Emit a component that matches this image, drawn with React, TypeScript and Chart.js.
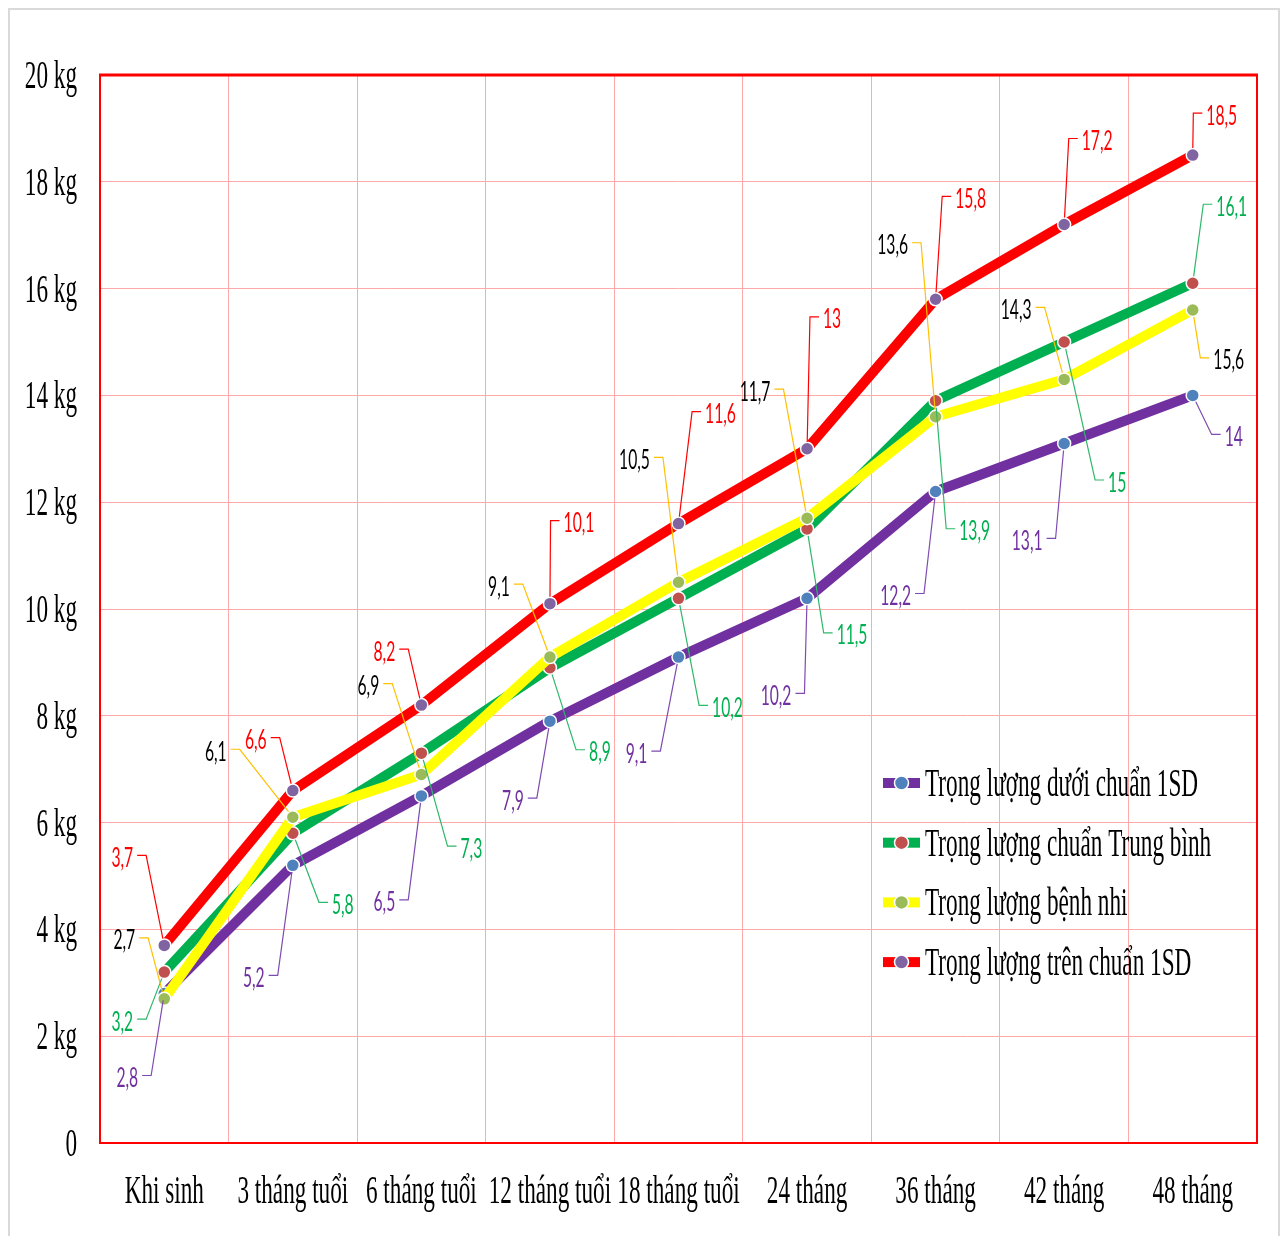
import React, { useEffect, useRef } from 'react';
import { Chart, registerables } from 'chart.js';

Chart.register(...registerables);

// Categories (age) and weight series, in kg
const categories = [
  'Khi sinh',
  '3 tháng tuổi',
  '6 tháng tuổi',
  '12 tháng tuổi',
  '18 tháng tuổi',
  '24 tháng',
  '36 tháng',
  '42 tháng',
  '48 tháng',
];

const seriesNames = [
  'Trọng lượng dưới chuẩn 1SD',
  'Trọng lượng chuẩn Trung bình',
  'Trọng lượng bệnh nhi',
  'Trọng lượng trên chuẩn 1SD',
];

const belowOneSD = [2.8, 5.2, 6.5, 7.9, 9.1, 10.2, 12.2, 13.1, 14];
const averageStandard = [3.2, 5.8, 7.3, 8.9, 10.2, 11.5, 13.9, 15, 16.1];
const patientWeight = [2.7, 6.1, 6.9, 9.1, 10.5, 11.7, 13.6, 14.3, 15.6];
const aboveOneSD = [3.7, 6.6, 8.2, 10.1, 11.6, 13, 15.8, 17.2, 18.5];

const yTickValues = [0, 2, 4, 6, 8, 10, 12, 14, 16, 18, 20];
const yTickLabels = ['0', '2 kg', '4 kg', '6 kg', '8 kg', '10 kg', '12 kg', '14 kg', '16 kg', '18 kg', '20 kg'];

const allSeries = [belowOneSD, averageStandard, patientWeight, aboveOneSD];

// Styling per series
const lineColors = ['#7030A0', '#00B050', '#FFFF00', '#FF0000'];
const markerColors = ['#4F81BD', '#C0504D', '#9BBB59', '#8064A2'];
const valueTextColors = ['#7030A0', '#00B050', '#000000', '#FF0000'];
const leaderColors = ['#7E4BB0', '#2EB86A', '#FFC000', '#FF0000'];

// Value-label placement: pixel offset of label centre from its point
const labelOffsets = [
  [[-37, 84], [-39, 112], [-37, 106], [-37, 79], [-42, 96], [-31, 97], [-40, 104], [-37, 97], [41, 41]],
  [[-42, 49], [50, 71], [50, 95], [50, 84], [49, 109], [45, 106], [39, 130], [53, 140], [39, -77]],
  [[-40, -59], [-77, -66], [-53, -89], [-51, -71], [-44, -123], [-52, -127], [-43, -172], [-48, -70], [36, 50]],
  [[-42, -88], [-37, -51], [-37, -54], [29, -81], [42, -110], [25, -130], [35, -101], [33, -84], [29, -40]],
];

const SQUEEZE = 0.58;
const SERIF = '40px "Liberation Serif", "Times New Roman", serif';
const SANS = '27px Lato, "Noto Sans", sans-serif';
const GRID = '#ffaaaa';

function drawText(ctx: CanvasRenderingContext2D, text: string, x: number, y: number,
  align: 'left' | 'right' | 'center', font: string, color: string) {
  ctx.save();
  ctx.font = font;
  ctx.fillStyle = color;
  ctx.textBaseline = 'alphabetic';
  ctx.textAlign = 'left';
  const w = ctx.measureText(text).width * SQUEEZE;
  const left = align === 'left' ? x : align === 'right' ? x - w : x - w / 2;
  ctx.translate(left, y);
  ctx.scale(SQUEEZE, 1);
  ctx.fillText(text, 0, 0);
  ctx.restore();
  return w;
}

const decorPlugin = {
  id: 'decor',
  beforeDatasetsDraw(chart: any) {
    const { ctx, chartArea: a } = chart;
    ctx.save();
    ctx.strokeStyle = '#FF0000';
    ctx.lineWidth = 2;
    ctx.strokeRect(a.left, a.top, a.right - a.left, a.bottom - a.top);
    ctx.lineWidth = 3;
    ctx.beginPath();
    ctx.moveTo(a.left - 1, a.top);
    ctx.lineTo(a.right + 1, a.top);
    ctx.stroke();
    ctx.restore();
  },
  afterDatasetsDraw(chart: any) {
    const { ctx, chartArea: a } = chart;
    const xs = chart.scales.x;
    const ys = chart.scales.y;

    // axis labels
    yTickValues.forEach((v, i) => {
      drawText(ctx, yTickLabels[i], a.left - 23, ys.getPixelForValue(v) + 13, 'right', SERIF, '#000');
    });
    categories.forEach((c, i) => {
      drawText(ctx, c, xs.getPixelForValue(i), a.bottom + 60, 'center', SERIF, '#000');
    });

    // value labels with leader lines
    allSeries.forEach((values, s) => {
      const meta = chart.getDatasetMeta(s);
      values.forEach((v, j) => {
        const pt = meta.data[j];
        const [dx, dy] = labelOffsets[s][j];
        const cx = pt.x + dx;
        const cy = pt.y + dy;
        const text = String(v).replace('.', ',');
        ctx.save();
        ctx.font = SANS;
        const w = ctx.measureText(text).width * SQUEEZE;
        const onLeft = dx < 0;
        const tickY = cy - 2;
        const tNear = onLeft ? cx + w / 2 + 4 : cx - w / 2 - 4;
        const tFar = onLeft ? tNear + 9 : tNear - 9;
        const ang = Math.atan2(pt.y - tickY, pt.x - tFar);
        const ex = pt.x - Math.cos(ang) * 7;
        const ey = pt.y - Math.sin(ang) * 7;
        ctx.strokeStyle = leaderColors[s];
        ctx.lineWidth = 1.2;
        ctx.beginPath();
        ctx.moveTo(tNear, tickY);
        ctx.lineTo(tFar, tickY);
        ctx.lineTo(ex, ey);
        ctx.stroke();
        ctx.restore();
        drawText(ctx, text, cx, cy + 9.5, 'center', SANS, valueTextColors[s]);
      });
    });

    // legend
    const lx = a.right - 374;
    const ly0 = a.bottom - 360;
    const step = 59.7;
    seriesNames.forEach((name, s) => {
      const y = ly0 + s * step;
      ctx.save();
      ctx.fillStyle = lineColors[s];
      ctx.fillRect(lx, y - 5, 37, 10);
      ctx.beginPath();
      ctx.arc(lx + 18.5, y, 7, 0, Math.PI * 2);
      ctx.fillStyle = markerColors[s];
      ctx.fill();
      ctx.strokeStyle = '#ffffff';
      ctx.lineWidth = 1.5;
      ctx.stroke();
      ctx.restore();
      drawText(ctx, name, lx + 42, y + 13, 'left', SERIF, '#000');
    });
  },
};

export default function App() {
  const canvasRef = useRef<HTMLCanvasElement | null>(null);

  useEffect(() => {
    const canvas = canvasRef.current;
    if (!canvas) return;
    const chart = new Chart(canvas, {
      type: 'line',
      data: {
        labels: categories,
        datasets: allSeries.map((values, s) => ({
          label: seriesNames[s],
          data: values,
          borderColor: lineColors[s],
          backgroundColor: lineColors[s],
          borderWidth: 10,
          borderJoinStyle: 'round',
          borderCapStyle: 'round',
          tension: 0,
          pointRadius: 6.5,
          pointBorderWidth: 1.5,
          pointBorderColor: '#ffffff',
          pointBackgroundColor: markerColors[s],
          order: 4 - s,
        })),
      },
      options: {
        animation: false,
        responsive: false,
        devicePixelRatio: 1,
        layout: { padding: { left: 90, top: 65, right: 21, bottom: 93 } },
        plugins: {
          legend: { display: false },
          tooltip: { enabled: false },
        },
        scales: {
          x: {
            type: 'category',
            offset: true,
            grid: { offset: true, color: GRID, lineWidth: 1, drawTicks: false },
            border: { display: false },
            ticks: { display: false },
          },
          y: {
            min: 0,
            max: 20,
            ticks: { display: false, stepSize: 2 },
            grid: { color: GRID, lineWidth: 1, drawTicks: false },
            border: { display: false },
          },
        },
      } as any,
      plugins: [decorPlugin],
    });
    return () => chart.destroy();
  }, []);

  return (
    <div
      style={{
        width: 1272,
        height: 1228,
        boxSizing: 'border-box',
        borderTop: '2px solid #d9d9d9',
        borderLeft: '2px solid #d9d9d9',
        borderRight: '2px solid #d9d9d9',
        background: '#ffffff',
      }}
    >
      <canvas ref={canvasRef} width={1268} height={1226} style={{ display: 'block' }} />
    </div>
  );
}
